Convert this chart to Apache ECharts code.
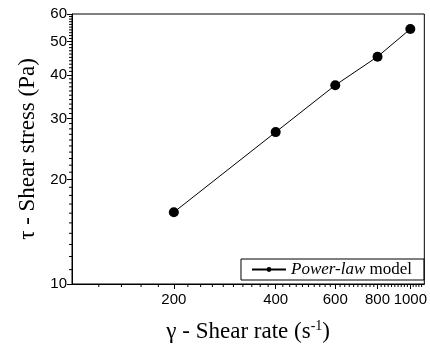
<!DOCTYPE html>
<html>
<head>
<meta charset="utf-8">
<script src="https://cdn.jsdelivr.net/npm/echarts@6/dist/echarts.min.js"></script>
<style>
  html, body { margin: 0; padding: 0; background: #fff; }
  #main { width: 430px; height: 352px; }
</style>
</head>
<body>
<div id="main"></div>
<script>
// shear rate (1/s) and measured shear stress (Pa)
const shearRate = [200, 400, 600, 800, 1000];
const shearStress = [16.1, 27.4, 37.4, 45.2, 54.3];

const xLabels = [200, 400, 600, 800, 1000];
const yLabels = [10, 20, 30, 40, 50, 60];
const xMinor = [120, 140, 160, 180, 220, 240, 260, 280, 300, 320, 340, 360, 380,
    420, 440, 460, 480, 500, 520, 540, 560, 580, 620, 640, 660, 680, 700, 720, 740, 760, 780,
    820, 840, 860, 880, 900, 920, 940, 960, 980, 1020, 1040, 1060, 1080];
const yMinor = [11, 12, 13, 14, 15, 16, 17, 18, 19, 21, 22, 23, 24, 25, 26, 27, 28, 29,
    31, 32, 33, 34, 35, 36, 37, 38, 39, 41, 42, 43, 44, 45, 46, 47, 48, 49,
    51, 52, 53, 54, 55, 56, 57, 58, 59];

const X_MIN = 100, X_MAX = 1100, Y_MIN = 10, Y_MAX = 60;

let myChart = echarts.init(document.getElementById('main'));

const tickFont = { color: '#000', fontFamily: 'Liberation Sans', fontSize: 15 };
const serif = 'Liberation Serif';
const points = shearRate.map((x, i) => [x, shearStress[i]]);

// short outward minor tick at an axis value, placed through the axis scale
function minorTick(dir) {
    return function (params, api) {
        const p = api.coord([api.value(0), api.value(1)]);
        const shape = dir === 'y'
            ? { x1: p[0] - 3, y1: p[1], x2: p[0], y2: p[1] }
            : { x1: p[0], y1: p[1], x2: p[0], y2: p[1] + 3 };
        return { type: 'line', shape: shape, style: { stroke: '#000', lineWidth: 1 } };
    };
}

option = {
    backgroundColor: '#fff',
    animation: false,
    grid: {
        left: 72, right: 5, top: 14, bottom: 68,
        show: true, borderColor: '#000', borderWidth: 1
    },
    legend: {
        data: ['Power-law model'],
        right: 6, bottom: 72,
        itemWidth: 34, itemHeight: 6, itemGap: 4,
        padding: [2, 12, 2, 10],
        borderColor: '#000', borderWidth: 1,
        formatter: function () { return '{i|Power-law} model'; },
        textStyle: {
            color: '#000', fontFamily: serif, fontSize: 17,
            rich: { i: { fontStyle: 'italic', fontFamily: serif, fontSize: 17, color: '#000' } }
        }
    },
    xAxis: {
        type: 'log', min: X_MIN, max: X_MAX,
        name: '{a|γ - Shear rate (s}{s|-1}{a|)}',
        nameLocation: 'middle', nameGap: 35,
        nameTextStyle: {
            rich: {
                a: { fontFamily: serif, fontSize: 23, color: '#000' },
                s: { fontFamily: serif, fontSize: 14, color: '#000', verticalAlign: 'top', padding: [0, 0, 12, 0] }
            }
        },
        axisLine: { lineStyle: { color: '#000', width: 1 } },
        axisTick: { customValues: xLabels, length: 5, lineStyle: { color: '#000' } },
        axisLabel: Object.assign({ customValues: xLabels, margin: 8, formatter: v => String(v) }, tickFont),
        splitLine: { show: false }
    },
    yAxis: {
        type: 'log', min: Y_MIN, max: Y_MAX,
        name: 'τ - Shear stress (Pa)',
        nameLocation: 'middle', nameGap: 32,
        nameTextStyle: { fontFamily: serif, fontSize: 23, color: '#000' },
        axisLine: { show: true, lineStyle: { color: '#000', width: 1 } },
        axisTick: { show: true, customValues: yLabels, length: 5, lineStyle: { color: '#000' } },
        axisLabel: Object.assign({ customValues: yLabels, margin: 5 }, tickFont),
        splitLine: { show: false }
    },
    series: [
        {
            name: 'Power-law model',
            type: 'line',
            data: points,
            symbol: 'circle', symbolSize: 10,
            itemStyle: { color: '#000' },
            lineStyle: { color: '#000', width: 1 },
            z: 3
        },
        {
            name: 'yMinorTicks',
            type: 'custom',
            silent: true, clip: false, z: 5,
            data: yMinor.map(v => [X_MIN, v]),
            renderItem: minorTick('y')
        },
        {
            name: 'xMinorTicks',
            type: 'custom',
            silent: true, clip: false, z: 5,
            data: xMinor.map(v => [v, Y_MIN]),
            renderItem: minorTick('x')
        }
    ]
};
myChart.setOption(option);
</script>
</body>
</html>
